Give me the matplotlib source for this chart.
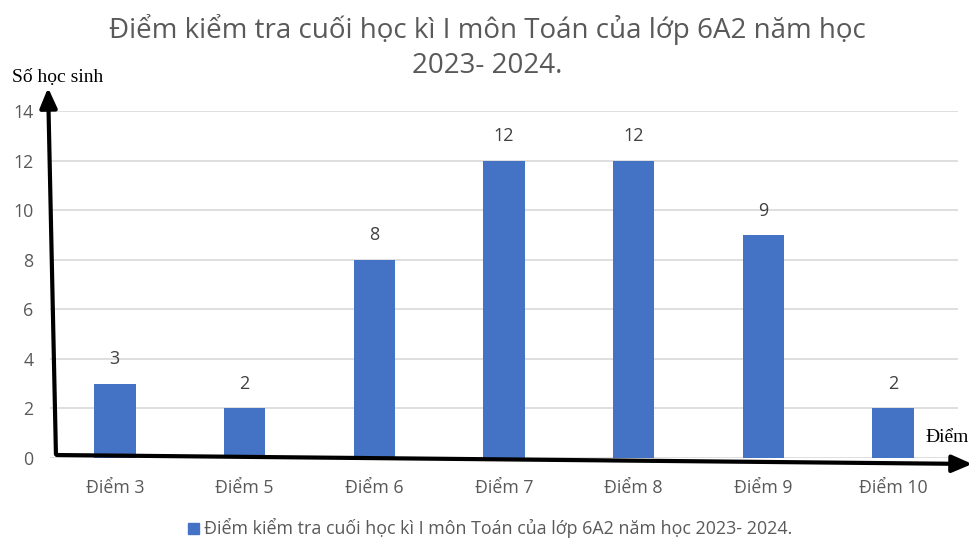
import matplotlib
matplotlib.use("Agg")
import matplotlib.pyplot as plt
from matplotlib.patches import Rectangle

categories = ["Điểm 3", "Điểm 5", "Điểm 6", "Điểm 7", "Điểm 8", "Điểm 9", "Điểm 10"]
values = [3, 2, 8, 12, 12, 9, 2]
yticks = [0, 2, 4, 6, 8, 10, 12, 14]
title = "Điểm kiểm tra cuối học kì I môn Toán của lớp 6A2 năm học\n2023- 2024."
series_name = "Điểm kiểm tra cuối học kì I môn Toán của lớp 6A2 năm học 2023- 2024."

W, H = 974, 540
fig = plt.figure(figsize=(W / 100, H / 100), dpi=100)
ax = fig.add_axes([50 / W, 1 - 458 / H, (958 - 50) / W, (458 - 111) / H])

sans = ["Open Sans", "DejaVu Sans"]
gray = "#595959"
blue = "#4472C4"

x = list(range(len(categories)))
bars = ax.bar(x, values, width=0.32, color=blue, zorder=3)
for xi, v in zip(x, values):
    ax.annotate(str(v), (xi, v), xytext=(0, 11), textcoords="offset points",
                ha="center", va="bottom", fontsize=13, color="#404040", family=sans)

ax.set_xlim(-0.5, len(categories) - 0.5)
ax.set_ylim(0, 14)
ax.set_yticks(yticks)
ax.set_xticks(x)
ax.set_xticklabels(categories, family=sans, fontsize=12.8, color=gray)
ax.set_yticklabels([str(t) for t in yticks], family=sans, fontsize=12.8, color=gray)
ax.tick_params(axis="both", length=0)
ax.tick_params(axis="x", pad=15)
ax.tick_params(axis="y", pad=12)
ax.grid(axis="y", color="#D9D9D9", linewidth=1.2, zorder=0)
for s in ax.spines.values():
    s.set_visible(False)

# hand-drawn axis arrows (figure pixel coordinates)
def px(xp, yp):
    return (xp / W, 1 - yp / H)

fig.add_artist(matplotlib.patches.FancyArrowPatch(
    px(56, 457), px(48, 85), transform=fig.transFigure,
    arrowstyle="-|>,head_length=6,head_width=2.6", color="black", lw=3, mutation_scale=2.0, zorder=10))
fig.add_artist(matplotlib.patches.FancyArrowPatch(
    px(54, 455), px(975, 464), transform=fig.transFigure,
    arrowstyle="-|>,head_length=6,head_width=2.6", color="black", lw=3, mutation_scale=2.0, zorder=10))

serif = ["Liberation Serif", "DejaVu Serif"]
fig.text(12 / W, 1 - 78 / H, "Số học sinh", family=serif, fontsize=14, ha="left", va="center", color="black")
fig.text(925 / W, 1 - 438 / H, "Điểm", family=serif, fontsize=14, ha="left", va="center", color="black")

fig.text(0.5, 1 - 47 / H, title, family=sans, fontsize=20, ha="center", va="center",
         color=gray, linespacing=1.33)

# legend
fig.patches.append(Rectangle(px(188, 534), 11 / W, 11 / H, transform=fig.transFigure,
                             color=blue, figure=fig))
fig.text(204 / W, 1 - 528 / H, series_name, family=sans, fontsize=12.9, ha="left",
         va="center", color=gray)

fig.savefig("out.png", dpi=100)
